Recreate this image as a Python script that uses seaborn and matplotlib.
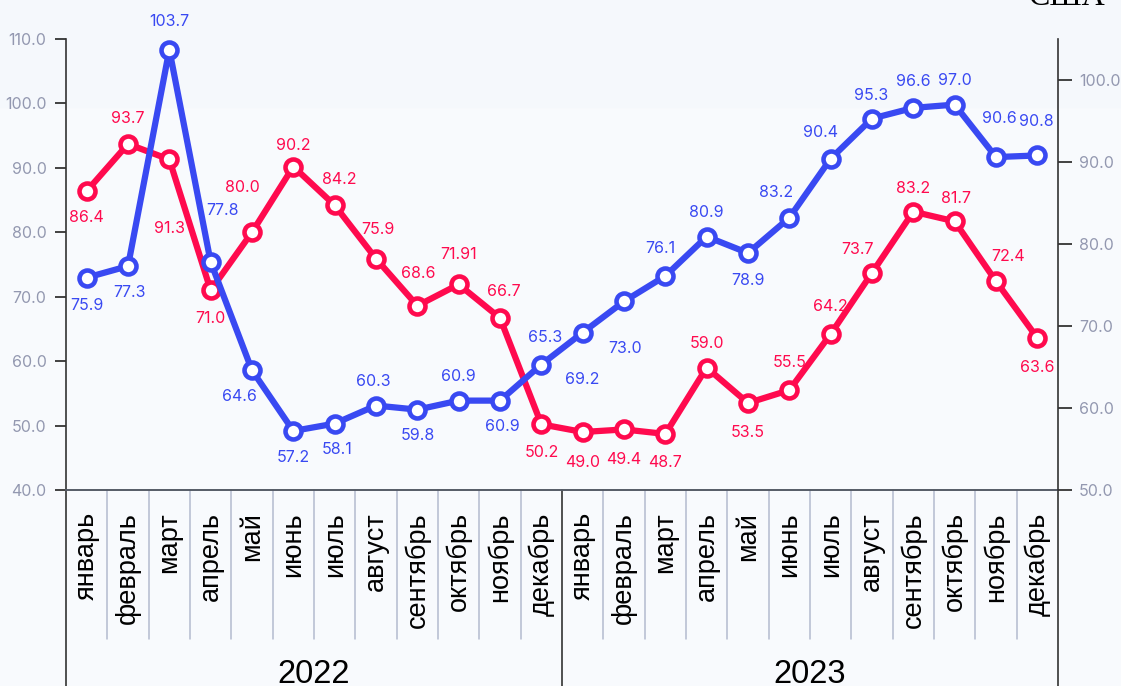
import numpy as np
import pandas as pd
import seaborn as sns
import matplotlib.pyplot as plt
from matplotlib.patches import Rectangle
from matplotlib.ticker import FormatStrFormatter

# данные
months = ['январь', 'февраль', 'март', 'апрель', 'май', 'июнь', 'июль',
          'август', 'сентябрь', 'октябрь', 'ноябрь', 'декабрь']
years = ['2022', '2023']
red_vals = [86.4, 93.7, 91.3, 71.0, 80.0, 90.2, 84.2, 75.9, 68.6, 71.91, 66.7, 50.2,
            49.0, 49.4, 48.7, 59.0, 53.5, 55.5, 64.2, 73.7, 83.2, 81.7, 72.4, 63.6]
blue_vals = [75.9, 77.3, 103.7, 77.8, 64.6, 57.2, 58.1, 60.3, 59.8, 60.9, 60.9, 65.3,
             69.2, 73.0, 76.1, 80.9, 78.9, 83.2, 90.4, 95.3, 96.6, 97.0, 90.6, 90.8]
title = 'США'

# смещения подписей (пиксели), чтобы не налезали на линии
red_off = [(0, -26), (0, 26), (0, -69), (0, -28), (-10, 45), (0, 21), (5, 26), (2, 29),
           (1, 32), (0, 30), (4, 26), (0, -28), (0, -30), (0, -30), (0, -29), (0, 24),
           (0, -29), (0, 28), (0, 28), (-14, 23), (0, 23), (1, 23), (12, 25), (0, -30)]
blue_off = [(0, -28), (2, -26), (0, 28), (12, 52), (-13, -26), (0, -27), (2, -26), (-3, 24),
            (0, -26), (0, 24), (2, -26), (4, 27), (0, -47), (1, -47), (-5, 27), (0, 24),
            (0, -27), (-13, 25), (-10, 26), (-1, 23), (0, 26), (0, 24), (3, 39), (-1, 34)]

RED = '#ff0a4e'
BLUE = '#3949f2'
GRAY = '#9398b0'
BG = '#f8fafd'

df = pd.DataFrame({'pos': np.arange(len(red_vals)), 'red': red_vals, 'blue': blue_vals})

sns.set_theme(style='white')
plt.rcParams['font.family'] = ['Inter', 'DejaVu Sans']

fig = plt.figure(figsize=(11.21, 6.86), dpi=100, facecolor=BG)
fig.patches.append(Rectangle((0, 1 - 107 / 686), 1, 107 / 686, transform=fig.transFigure,
                             color='#f5f8fc', zorder=-10))
ax = fig.add_axes([66 / 1121, 196 / 686, 992 / 1121, 451 / 686])
ax.set_facecolor('none')
ax2 = ax.twinx()
ax2.set_facecolor('none')

line_kw = dict(marker='o', markersize=11.5, markerfacecolor='white', markeredgewidth=3.3,
               linewidth=4.5, solid_joinstyle='round')
sns.lineplot(data=df, x='pos', y='red', ax=ax, color=RED, markeredgecolor=RED, **line_kw)
sns.lineplot(data=df, x='pos', y='blue', ax=ax2, color=BLUE, markeredgecolor=BLUE, **line_kw)

for i, v in enumerate(red_vals):
    ax.annotate(str(v), (i, v), xytext=red_off[i], textcoords='offset pixels',
                ha='center', va='center', color=RED, fontsize=11.5)
for i, v in enumerate(blue_vals):
    ax2.annotate(str(v), (i, v), xytext=blue_off[i], textcoords='offset pixels',
                 ha='center', va='center', color=BLUE, fontsize=11.5)

n = len(red_vals)
ax.set_xlim(-0.5, n - 0.5)
ax.set_ylim(40, 110)
ax2.set_ylim(50, 105)
ax.set_yticks(np.arange(40, 111, 10))
ax2.set_yticks(np.arange(50, 101, 10))
for a in (ax, ax2):
    a.yaxis.set_major_formatter(FormatStrFormatter('%.1f'))
    a.set_xlabel('')
    a.set_ylabel('')
    a.grid(False)
    a.spines['top'].set_visible(False)

ax.tick_params(axis='y', length=8, width=1.3, color='#333333', pad=6,
               labelsize=11.5, labelcolor=GRAY)
ax2.tick_params(axis='y', length=10, width=1.3, color='#333333', pad=5,
                labelsize=11.5, labelcolor=GRAY)
ax.spines['left'].set_color('#333333')
ax.spines['left'].set_linewidth(1.2)
ax.spines['right'].set_visible(False)
ax2.spines['left'].set_visible(False)
ax2.spines['bottom'].set_visible(False)
ax2.spines['right'].set_color('#333333')
ax2.spines['right'].set_linewidth(1.2)
ax.spines['bottom'].set_color('#555b66')
ax.spines['bottom'].set_linewidth(1.4)

ax.set_xticks(np.arange(n))
ax.set_xticklabels(months * len(years), rotation=90, va='top', ha='center',
                   family='Liberation Sans', fontsize=19.5, color='black')
ax.tick_params(axis='x', length=0, pad=16)

# разделители месяцев и годов под осью
for k in range(1, n):
    if k % 12 == 0:
        continue
    ax.axvline(k - 0.5, ymin=-0.33, ymax=0, clip_on=False, color='#b3bbcf', lw=1.1)
for k in range(0, n + 1, 12):
    ax.axvline(k - 0.5, ymin=-0.45, ymax=0, clip_on=False, color='#333333', lw=1.2)
for j, y in enumerate(years):
    ax.text(j * 12 + 5.5, -0.429, y, transform=ax.get_xaxis_transform(), ha='center',
            va='baseline', fontsize=23.5, family='Liberation Sans', color='black')

fig.text(1106 / 1121, 1 - 5 / 686, title, ha='right', va='baseline',
         family='Liberation Serif', fontsize=23, color='black')

fig.savefig('out.png', dpi=100, facecolor=BG)
